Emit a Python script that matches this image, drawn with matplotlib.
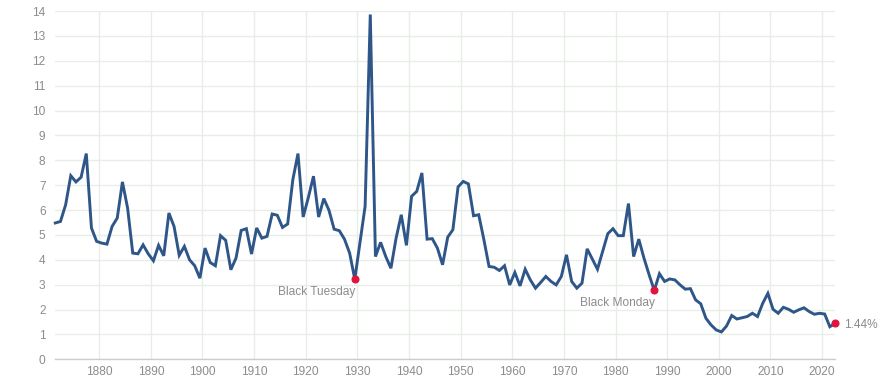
import matplotlib
matplotlib.use("Agg")
import matplotlib.pyplot as plt
import numpy as np

plt.rcParams["font.family"] = ["Liberation Sans", "DejaVu Sans"]

years = np.arange(1871, 2023)
dividend_yield = [
    5.48, 5.54, 6.21, 7.38, 7.13, 7.32, 8.27, 5.28, 4.74,                     # 1871-1879
    4.67, 4.63, 5.34, 5.68, 7.13, 6.08, 4.27, 4.24, 4.60, 4.24,               # 1880s
    3.96, 4.58, 4.16, 5.88, 5.34, 4.18, 4.54, 4.00, 3.76, 3.26,               # 1890s
    4.47, 3.89, 3.76, 4.97, 4.78, 3.60, 4.07, 5.18, 5.25, 4.23,               # 1900s
    5.28, 4.87, 4.94, 5.84, 5.79, 5.30, 5.44, 7.22, 8.27, 5.72,               # 1910s
    6.50, 7.36, 5.72, 6.46, 5.99, 5.23, 5.17, 4.83, 4.27, 3.22,               # 1920s
    4.70, 6.15, 13.86, 4.13, 4.70, 4.13, 3.66, 4.87, 5.81, 4.58,              # 1930s
    6.55, 6.75, 7.49, 4.83, 4.85, 4.47, 3.80, 4.91, 5.21, 6.93,               # 1940s
    7.15, 7.05, 5.77, 5.81, 4.81, 3.73, 3.70, 3.57, 3.76, 2.99,               # 1950s
    3.49, 2.95, 3.62, 3.19, 2.86, 3.09, 3.33, 3.13, 2.99, 3.33,               # 1960s
    4.20, 3.13, 2.86, 3.06, 4.44, 4.03, 3.62, 4.34, 5.05, 5.25,               # 1970s
    4.97, 4.97, 6.26, 4.13, 4.83, 4.07, 3.40, 2.77, 3.44, 3.13,               # 1980s
    3.23, 3.19, 2.99, 2.82, 2.84, 2.39, 2.23, 1.65, 1.38, 1.18,               # 1990s
    1.10, 1.34, 1.76, 1.62, 1.67, 1.72, 1.85, 1.72, 2.25, 2.65,               # 2000s
    2.01, 1.85, 2.09, 2.01, 1.89, 1.99, 2.07, 1.92, 1.81, 1.85,               # 2010s
    1.82, 1.31, 1.44,                                                         # 2020s
]

events = {1929: "Black Tuesday", 1987: "Black Monday"}
x_ticks = list(range(1880, 2030, 10))
y_ticks = list(range(0, 15))

LINE_COLOR = "#2f5688"
DOT_COLOR = "#e0143c"
GRID_COLOR = "#e6eee6"
TEXT_COLOR = "#8c8c8c"
FS = 8.6

# points sit in the middle of each year
xs = years + 0.5
ys = np.array(dividend_yield)

fig = plt.figure(figsize=(8.9, 3.84), dpi=100)
ax = fig.add_axes([55.3 / 890, 24.7 / 384, (835 - 55.3) / 890, (359.3 - 11) / 384])

ax.plot(xs, ys, color=LINE_COLOR, lw=2.1, solid_joinstyle="miter", zorder=3, clip_on=False)

for yr, label in events.items():
    i = list(years).index(yr)
    ax.plot(xs[i], ys[i], "o", color=DOT_COLOR, ms=4.8, zorder=4, clip_on=False)
    ax.annotate(label, (xs[i], ys[i]), xytext=(1, -13), textcoords="offset pixels",
                ha="right", va="center", fontsize=FS, color=TEXT_COLOR)

# latest value
ax.plot(xs[-1], ys[-1], "o", color=DOT_COLOR, ms=4.8, zorder=4, clip_on=False)
ax.annotate("%.2f%%" % ys[-1], (xs[-1], ys[-1]), xytext=(9, -2), textcoords="offset pixels",
            ha="left", va="center", fontsize=FS, color=TEXT_COLOR, annotation_clip=False)

ax.set_xlim(xs[0], xs[-1])
ax.set_ylim(0, 14)
ax.set_xticks(x_ticks)
ax.set_yticks(y_ticks)
ax.tick_params(axis="both", length=0, labelsize=FS, labelcolor=TEXT_COLOR)
ax.tick_params(axis="y", pad=7)
ax.tick_params(axis="x", pad=5)

ax.grid(True, color=GRID_COLOR, lw=1)
ax.set_axisbelow(True)
for side in ["left", "right", "top"]:
    ax.spines[side].set_visible(False)
ax.spines["bottom"].set_color("#cccccc")
ax.spines["bottom"].set_linewidth(1)

fig.savefig("out.png", dpi=100)
